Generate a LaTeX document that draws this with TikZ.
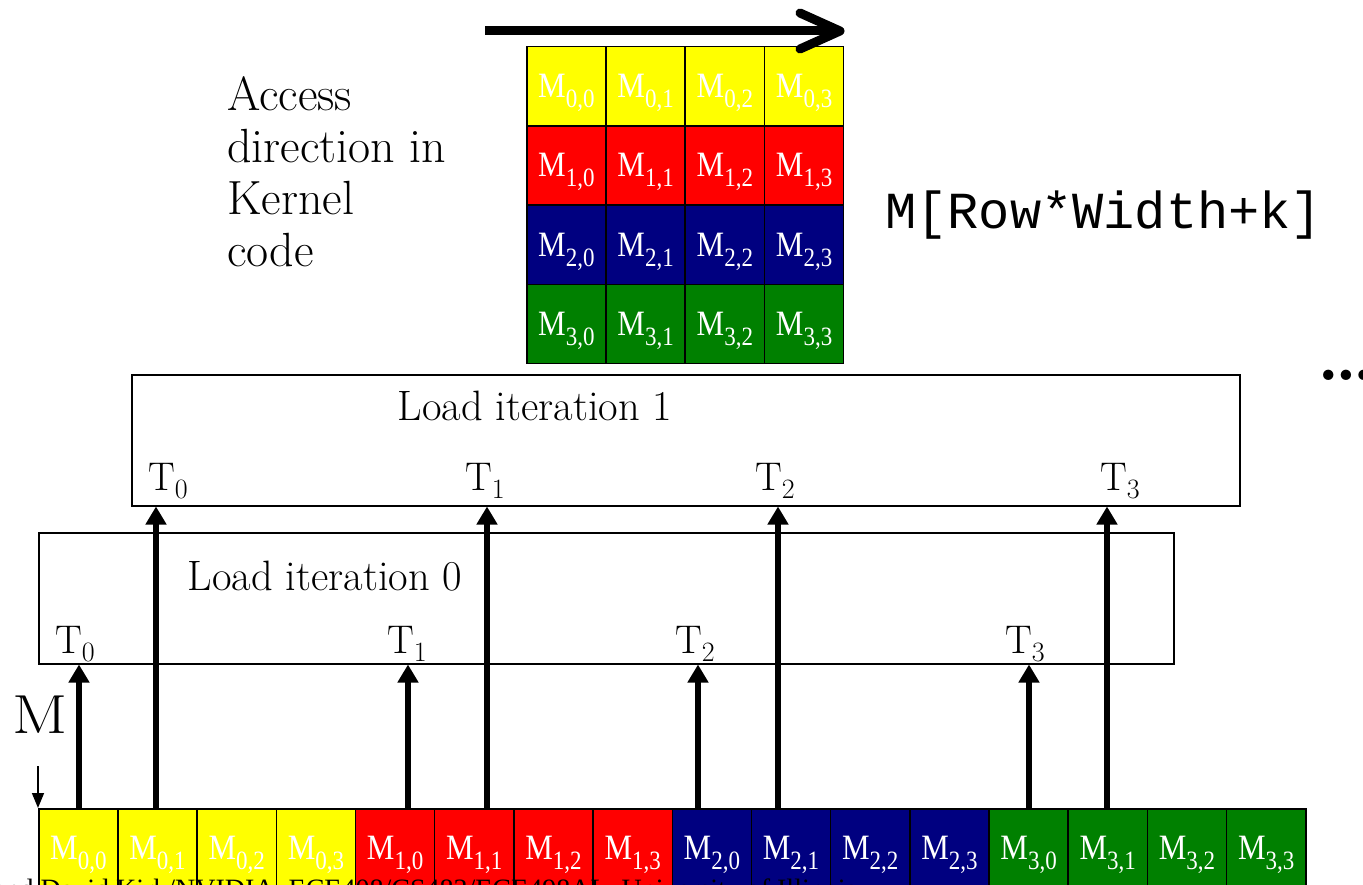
\documentclass[tikz,border=0pt]{standalone}
\usepackage{fontspec}
\usepackage{graphicx}
\usetikzlibrary{arrows.meta}
\newfontfamily\cellfont{Liberation Serif}
\newfontfamily\codefont{Liberation Mono}
\definecolor{cyellow}{HTML}{FFFF00}
\definecolor{cred}{HTML}{FF0000}
\definecolor{cnavy}{HTML}{000080}
\definecolor{cgreen}{HTML}{008000}

% element label M_{r,c}
\newcommand\elem[1]{\scalebox{1}[1.15]{M\raisebox{-8.5pt}{\fontsize{23}{23}\selectfont #1}}}
% thread label T_i
\newcommand\thr[1]{T\raisebox{-8pt}{\fontsize{28}{28}\selectfont #1}}

\tikzset{
  cell/.style={draw=black, line width=1.5pt, minimum width=79.2pt, minimum height=79.2pt,
    inner sep=0pt, anchor=north west, text=white, font=\cellfont\fontsize{31}{31}\selectfont,
    text height=32.8pt, text depth=10pt},
  loadbox/.style={draw=black, line width=1.5pt, fill=white, anchor=north west, inner sep=0pt},
  load/.style={anchor=base, inner sep=0pt, font=\fontsize{42.5}{44}\selectfont},
  tid/.style={anchor=base west, inner sep=0pt, font=\fontsize{40}{40}\selectfont},
  ldarrow/.style={line width=6pt, -{Triangle[width=20pt,length=18pt]}},
}

\begin{document}
\begin{tikzpicture}[x=1pt,y=-1pt]
\useasboundingbox (0,0) rectangle (1363,885);
\clip (0,0) rectangle (1363,885);
\fill[white] (0,0) rectangle (1363,885);

% 4x4 matrix
\foreach \rr/\cc in {0/cyellow,1/cred,2/cnavy,3/cgreen}{
  \foreach \kk in {0,...,3}{
    \node[cell, fill=\cc] (m\rr\kk) at ({526+79.25*\kk},{46+79.25*\rr}) {\elem{\rr,\kk}};
  }
}

% linearized row-major layout
\foreach \rr/\cc in {0/cyellow,1/cred,2/cnavy,3/cgreen}{
  \foreach \kk in {0,...,3}{
    \pgfmathtruncatemacro\n{4*\rr+\kk}
    \node[cell, fill=\cc] (b\n) at ({38+79.19*\n},808) {\elem{\rr,\kk}};
  }
}

% access direction
\coordinate (dirS) at (485,31);
\coordinate (dirE) at (840,31);
\draw[line width=9pt] (dirS) -- ([xshift=-4pt]dirE);
\draw[line width=9pt, line cap=round, line join=round]
  ([shift={(-40,-18)}]dirE) -- (dirE) -- ([shift={(-40,18)}]dirE);

\node[anchor=north west, align=left, inner sep=0pt, font=\fontsize{48}{52}\selectfont]
  (acc) at (227,76) {Access\\direction in\\Kernel\\code};

\node[anchor=base west, inner sep=0pt, font=\codefont\fontsize{52}{52}\selectfont]
  (idx) at (885,229) {M[Row*Width+k]};

\node[anchor=base west, inner sep=0pt, font=\bfseries\fontsize{72}{72}\selectfont]
  (more) at (1317,380) {\ldots};

% load iterations
\node[loadbox, minimum width=1108pt, minimum height=131pt] (it1) at (131,374) {};
\node[loadbox, minimum width=1135pt, minimum height=131pt] (it0) at (38,532) {};

\node[load] (l1) at (535,420) {Load iteration 1};
\node[load] (l0) at (325,590) {Load iteration 0};

\node[tid] (t10) at (148,490) {\thr{0}};
\node[tid] (t11) at (465,490) {\thr{1}};
\node[tid] (t12) at (755,490) {\thr{2}};
\node[tid] (t13) at (1100,490) {\thr{3}};

\node[tid] (t00) at (55,653) {\thr{0}};
\node[tid] (t01) at (387,653) {\thr{1}};
\node[tid] (t02) at (675,653) {\thr{2}};
\node[tid] (t03) at (1005,653) {\thr{3}};

% loads of iteration 0
\foreach \x [count=\i from 0] in {79,408,698,1029}{
  \coordinate (p0\i) at (\x,808);
  \draw[ldarrow] (p0\i) -- (p0\i |- it0.south);
}
% loads of iteration 1
\foreach \x [count=\i from 0] in {156,487,778,1107}{
  \coordinate (p1\i) at (\x,808);
  \draw[ldarrow] (p1\i) -- (p1\i |- it1.south);
}

% array M
\node[anchor=base west, inner sep=0pt, font=\fontsize{55}{55}\selectfont] (mlab) at (12,733) {\scalebox{1.18}[1]{M}};
\coordinate (mtop) at (38,766);
\draw[line width=1.5pt, -{Triangle[width=12pt,length=15pt]}] (mtop) -- (b0.north west);

% footer
\node[anchor=base west, inner sep=0pt, font=\cellfont\fontsize{28}{28}\selectfont]
  (foot) at (-7,898) {and David Kirk/NVIDIA, ECE408/CS483/ECE498AL, University of Illinois};
\end{tikzpicture}
\end{document}
